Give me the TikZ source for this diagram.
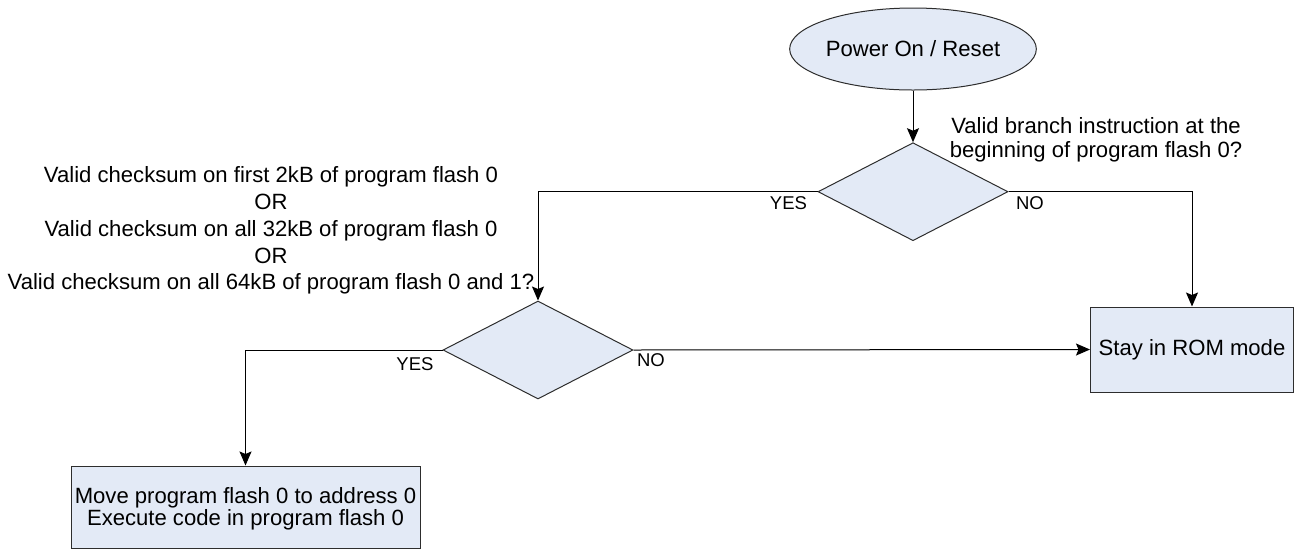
\documentclass[tikz,border=0pt]{standalone}
\usepackage{fontspec}
\setmainfont{Liberation Sans}
\usetikzlibrary{shapes.geometric,arrows.meta}
\definecolor{boxfill}{RGB}{227,234,246}
\definecolor{edge}{RGB}{45,45,45}
\begin{document}
\begin{tikzpicture}[x=1pt,y=-1pt,
  shapebox/.style={draw=edge, fill=boxfill, line width=1pt, inner sep=0pt},
  conn/.style={draw=black, line width=1pt, -{Stealth[length=14pt,width=12pt,inset=2.5pt]}},
  txt/.style={font=\fontsize{22.1}{26.8}\selectfont, align=center, inner sep=0pt},
  lbl/.style={font=\fontsize{18.5}{22}\selectfont, inner sep=0pt}]
\useasboundingbox (0,0) rectangle (1299,550);
\node[shapebox, ellipse, minimum width=192pt, minimum height=82pt, font=\fontsize{22.1}{26}\selectfont] (start) at (913,49) {Power On / Reset};
\node[shapebox, diamond, minimum width=190pt, minimum height=98pt] (d1) at (913,191.7) {};
\node[shapebox, diamond, minimum width=190pt, minimum height=98pt] (d2) at (538,350) {};
\node[shapebox, rectangle, minimum width=203pt, minimum height=85pt, txt] (stay) at (1192,349.5) {Stay in ROM mode};
\node[shapebox, rectangle, minimum width=349pt, minimum height=82pt, txt, font=\fontsize{22.1}{22.5}\selectfont, text depth=1pt] (move) at (245.5,507) {Move program flash 0 to address 0\\Execute code in program flash 0};
\node[txt, font=\fontsize{22.1}{24.5}\selectfont] (qbranch) at (1096,140) {Valid branch instruction at the\\beginning of program flash 0?};
\node[txt] (qcheck) at (271,230.5) {Valid checksum on first 2kB of program flash 0\\OR\\Valid checksum on all 32kB of program flash 0\\OR\\Valid checksum on all 64kB of program flash 0 and 1?};
\node[lbl] (yes1) at (788.5,203) {YES};
\node[lbl] (no1) at (1030,203) {NO};
\node[lbl] (yes2) at (415,364) {YES};
\node[lbl] (no2) at (651,360) {NO};
\draw[conn] (start) -- (d1);
\draw[conn] (d1.west) -| (d2.north);
\draw[conn] (d1.east) -| (stay.north);
\draw[conn] (d2.west) -| (move.north);
\draw[conn] (d2.east) -- (stay.west);
\end{tikzpicture}
\end{document}
